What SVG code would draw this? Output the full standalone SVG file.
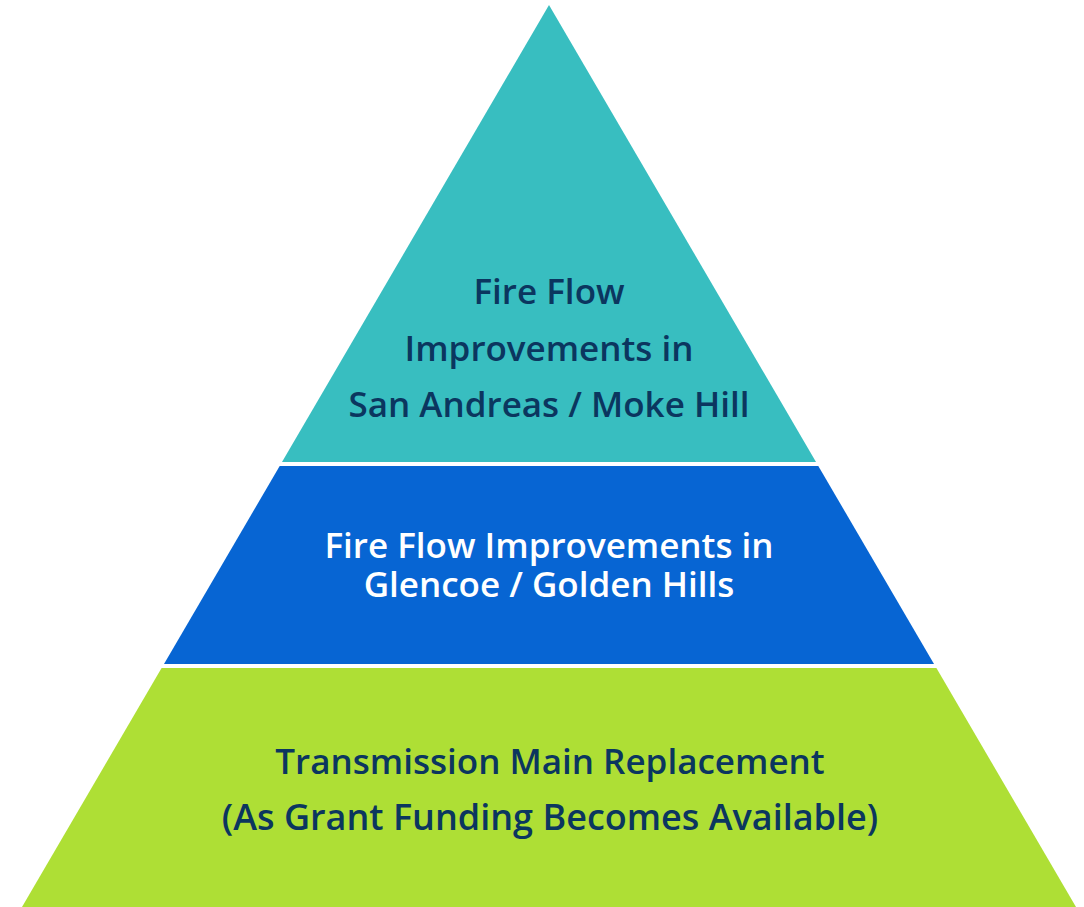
<svg xmlns="http://www.w3.org/2000/svg" width="1084" height="907" viewBox="0 0 1084 907">
<style>
.t{font-family:"Open Sans","Liberation Sans",sans-serif;font-weight:600;text-anchor:middle;font-size:35px}
.dark{fill:#0B365F}
.light{fill:#FFFFFF}
</style>
<rect width="1084" height="907" fill="#FFFFFF"/>
<g id="tier-top">
<polygon points="549,5 816,462 282,462" fill="#38BEC0"/>
<text class="t dark" x="549" y="304">Fire Flow</text>
<text class="t dark" x="549" y="361">Improvements in</text>
<text class="t dark" x="549" y="417">San Andreas / Moke Hill</text>
</g>
<g id="tier-middle">
<polygon points="279.7,466 818.3,466 934,664 164,664" fill="#0765D3"/>
<text class="t light" x="549" y="558">Fire Flow Improvements in</text>
<text class="t light" x="549" y="597">Glencoe / Golden Hills</text>
</g>
<g id="tier-bottom">
<polygon points="161.6,668 936.4,668 1076,907 22,907" fill="#AEDF35"/>
<text class="t dark" x="550" y="774">Transmission Main Replacement</text>
<text class="t dark" x="550" y="830" style="font-size:36px">(As Grant Funding Becomes Available)</text>
</g>
</svg>
